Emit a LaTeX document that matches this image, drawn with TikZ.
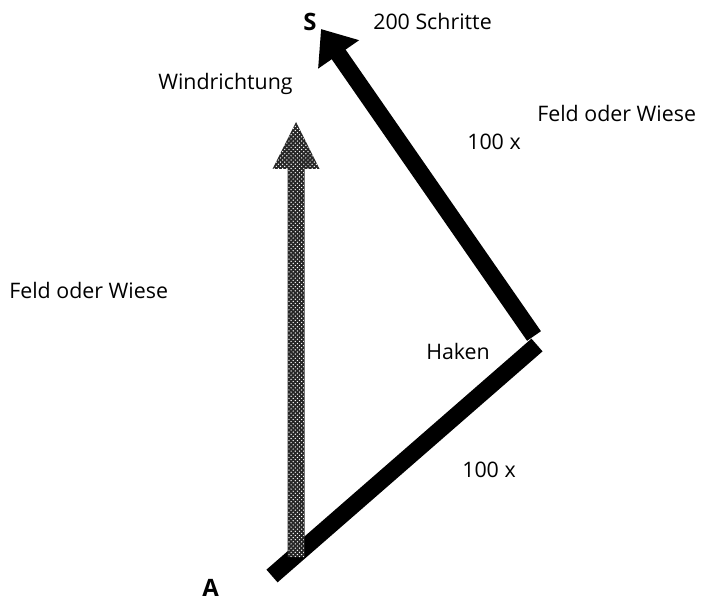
\documentclass[tikz,border=0pt]{standalone}
\usepackage{fontspec}
\setmainfont{Open Sans}
\usepackage{tikz}
\usetikzlibrary{arrows.meta,patterns,positioning}

\begin{document}
\begin{tikzpicture}[x=0.025cm, y=-0.025cm,
  label/.style={inner sep=0pt, anchor=base west, font=\fontsize{15.2}{17}\selectfont},
  point/.style={label, font=\fontsize{17}{19}\selectfont\bfseries},
  walk/.style={line width=12pt, line cap=butt, line join=miter},
  wind/.style={fill=black!85, postaction={pattern=crosshatch dots, pattern color=white}}
]
\useasboundingbox (0,0) rectangle (702,603);

% route points
\coordinate (start) at (272,576);
\coordinate (hook1) at (537,345);
\coordinate (hook2) at (534,336);
\coordinate (goal) at (321,29);

% route
\draw[walk] (start) -- (hook1);
\draw[walk, -{Triangle[width=34pt, length=22pt]}] (hook2) -- (goal);

% wind arrow
\fill[wind] (287.5,557) -- (287.5,169) -- (272.5,169) -- (296,122)
  -- (319.5,169) -- (304.5,169) -- (304.5,557) -- cycle;

% texts
\node[point] (S) at (303,31) {S};
\node[point] (A) at (202,596) {A};
\node[label] (steps) at (373,30) {200 Schritte};
\node[label] (winddir) at (158,90) {Windrichtung};
\node[label] (fieldR) at (537,122) {Feld oder Wiese};
\node[label] (fieldL) at (9,298) {Feld oder Wiese};
\node[label] (up) at (467,150) {100 x};
\node[label] (down) at (462,477) {100 x};
\node[label] (hook) at (426,359) {Haken};
\end{tikzpicture}
\end{document}
